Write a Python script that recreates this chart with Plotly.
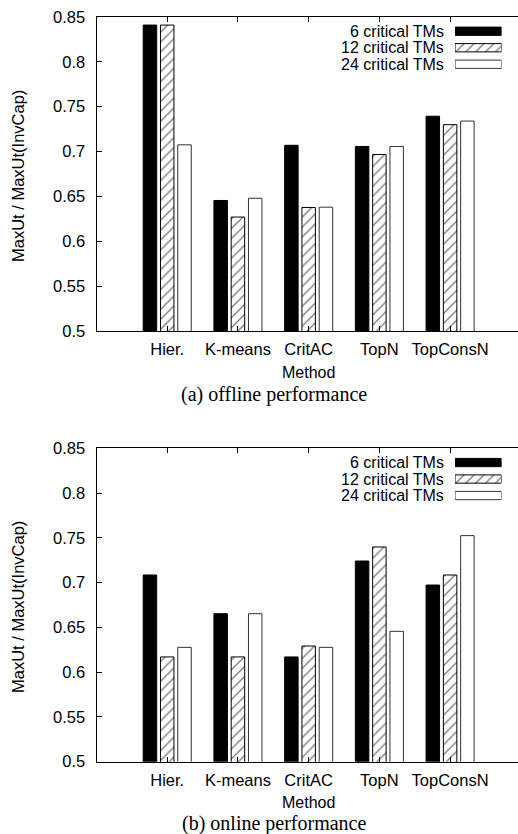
import plotly.graph_objects as go

# Methods compared and series values (MaxUt / MaxUt(InvCap))
methods = ["Hier.", "K-means", "CritAC", "TopN", "TopConsN"]
series_names = ["6 critical TMs", "12 critical TMs", "24 critical TMs"]

offline_6 = [0.841, 0.6455, 0.707, 0.7057, 0.7394]
offline_12 = [0.841, 0.627, 0.6377, 0.6968, 0.730]
offline_24 = [0.7075, 0.648, 0.638, 0.7057, 0.734]

online_6 = [0.7085, 0.6653, 0.617, 0.7241, 0.6973]
online_12 = [0.617, 0.617, 0.6292, 0.7398, 0.7085]
online_24 = [0.6277, 0.6653, 0.6277, 0.6456, 0.7525]

y_ticks = [0.5, 0.55, 0.6, 0.65, 0.7, 0.75, 0.8, 0.85]
y_tick_text = ["0.5", "0.55", "0.6", "0.65", "0.7", "0.75", "0.8", "0.85"]

W, H = 518, 834
SANS = "Liberation Sans, Arial, Helvetica, sans-serif"
SERIF = "Liberation Serif, Times New Roman, serif"
FS = 16.5

styles = [
    dict(color="black", line=dict(color="black", width=1)),
    dict(color="white", line=dict(color="black", width=1),
         pattern=dict(shape="/", fgcolor="black", bgcolor="white", size=7, solidity=0.2)),
    dict(color="white", line=dict(color="#333333", width=1)),
]


def py(px):
    return 1 - px / H


fig = go.Figure()

panels = [
    dict(data=[offline_6, offline_12, offline_24], top=17.0, bottom=331.0,
         xa="x", ya="y", ya_r="y2", xl="x3", yl="y3",
         meth_y=372.5, cap_y=395, caption="(a) offline performance"),
    dict(data=[online_6, online_12, online_24], top=448.3, bottom=761.7,
         xa="x2", ya="y4", ya_r="y5", xl="x4", yl="y6",
         meth_y=802, cap_y=823, caption="(b) online performance"),
]

x_dom = [96.5 / W, 1.0]

for p in panels:
    for vals, name, st in zip(p["data"], series_names, styles):
        fig.add_trace(go.Bar(x=methods, y=vals, name=name, marker=st,
                             xaxis=p["xa"], yaxis=p["ya"], showlegend=False,
                             hoverinfo="skip"))
    # legend swatches drawn as horizontal bars on a small dedicated axis
    for i, (name, st) in enumerate(zip(series_names, styles)):
        fig.add_trace(go.Bar(x=[1], y=[i], base=0, orientation="h", width=0.5,
                             marker=st, xaxis=p["xl"], yaxis=p["yl"],
                             showlegend=False, hoverinfo="skip"))

axis_common = dict(showgrid=False, zeroline=False)
tickfont = dict(family=SANS, size=FS, color="black")

layout = dict(
    width=W, height=H,
    margin=dict(l=0, r=0, t=0, b=0),
    paper_bgcolor="white", plot_bgcolor="white",
    barmode="group", bargap=0.267, bargroupgap=0.22,
    showlegend=False,
)

annotations = []
for p in panels:
    xa = "xaxis" if p["xa"] == "x" else "xaxis" + p["xa"][1:]
    ya = "yaxis" if p["ya"] == "y" else "yaxis" + p["ya"][1:]
    yar = "yaxis" + p["ya_r"][1:]
    xl = "xaxis" + p["xl"][1:]
    yl = "yaxis" + p["yl"][1:]
    ydom = [py(p["bottom"]), py(p["top"])]
    layout[xa] = dict(
        domain=x_dom, anchor=p["ya"], range=[-1.0, 4.96],
        type="category", showline=True, linecolor="black", linewidth=1,
        mirror="ticks", ticks="inside", ticklen=5, tickcolor="black",
        tickfont=tickfont, ticklabelstandoff=3, automargin=False, **axis_common)
    layout[ya] = dict(
        domain=ydom, anchor=p["xa"], range=[0.5, 0.85],
        tickvals=y_ticks, ticktext=y_tick_text,
        showline=True, linecolor="black", linewidth=1,
        ticks="inside", ticklen=5, tickcolor="black",
        tickfont=tickfont, ticklabelstandoff=7, automargin=False, **axis_common)
    layout[yar] = dict(
        overlaying=p["ya"], side="right", anchor=p["xa"], range=[0.5, 0.85],
        tickvals=y_ticks, showticklabels=False, showline=False,
        ticks="inside", ticklen=4, tickcolor="black", automargin=False, **axis_common)
    lt = p["top"] + 6.0
    layout[xl] = dict(domain=[455 / W, 501.5 / W], anchor=p["yl"], range=[0, 1],
                      visible=False, fixedrange=True)
    layout[yl] = dict(domain=[py(lt + 49.5), py(lt)], anchor=p["xl"], range=[2.5, -0.5],
                      visible=False, fixedrange=True)
    for i, name in enumerate(series_names):
        annotations.append(dict(
            text=name, x=0, y=i, xref=p["xl"], yref=p["yl"], xanchor="right",
            yanchor="middle", xshift=-9, showarrow=False,
            font=dict(family=SANS, size=16, color="black")))
    annotations.append(dict(
        text="MaxUt / MaxUt(InvCap)", textangle=-90, x=18 / W,
        y=py((p["top"] + p["bottom"]) / 2 + 2), xref="paper", yref="paper",
        xanchor="center", yanchor="middle", showarrow=False,
        font=dict(family=SANS, size=FS, color="black")))
    annotations.append(dict(
        text="Method", x=308.5 / W, y=py(p["meth_y"]), xref="paper", yref="paper",
        xanchor="center", yanchor="middle", showarrow=False,
        font=dict(family=SANS, size=16, color="black")))
    annotations.append(dict(
        text=p["caption"], x=274 / W, y=py(p["cap_y"]), xref="paper", yref="paper",
        xanchor="center", yanchor="middle", showarrow=False,
        font=dict(family=SERIF, size=20, color="black")))

layout["annotations"] = annotations
fig.update_layout(**layout)

fig.write_html("out.html")
